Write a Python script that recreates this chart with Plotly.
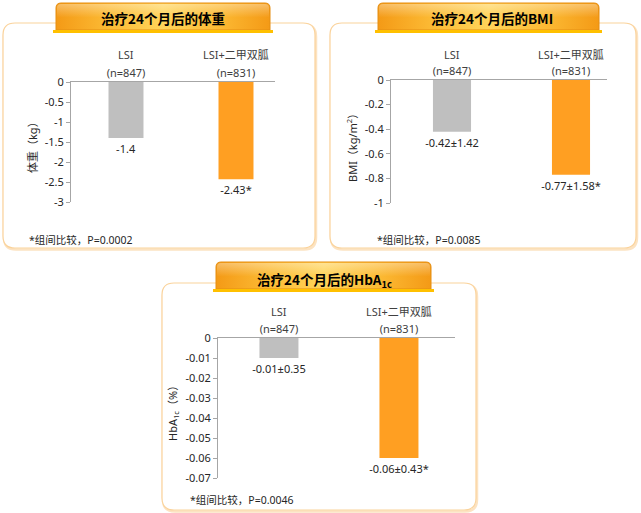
import base64
import plotly.graph_objects as go

W, H = 641, 513

group_names = ["LSI", "LSI+二甲双胍"]
group_n = ["(n=847)", "(n=831)"]
colors = ["#BFBFBF", "#FF9F22"]

weight = [-1.4, -2.43]
weight_txt = ["-1.4", "-2.43*"]
weight_ticks = [0, -0.5, -1, -1.5, -2, -2.5, -3]
weight_ticktext = ["0", "-0.5", "-1", "-1.5", "-2", "-2.5", "-3"]

bmi = [-0.42, -0.77]
bmi_txt = ["-0.42±1.42", "-0.77±1.58*"]
bmi_ticks = [0, -0.2, -0.4, -0.6, -0.8, -1]
bmi_ticktext = ["0", "-0.2", "-0.4", "-0.6", "-0.8", "-1"]

hba = [-0.01, -0.06]
hba_txt = ["-0.01±0.35", "-0.06±0.43*"]
hba_ticks = [0, -0.01, -0.02, -0.03, -0.04, -0.05, -0.06, -0.07]
hba_ticktext = ["0", "-0.01", "-0.02", "-0.03", "-0.04", "-0.05", "-0.06", "-0.07"]

titles = ["治疗24个月后的体重", "治疗24个月后的BMI", "治疗24个月后的HbA<sub>1c</sub>"]
ytitles = ["体重（kg）", "BMI（kg/m<sup>2</sup>）", "HbA<sub>1c</sub>（%）"]
notes = ["*组间比较，P=0.0002", "*组间比较，P=0.0085", "*组间比较，P=0.0046"]

FONT = "Noto Sans, Noto Sans CJK SC"
TFONT = "Noto Sans CJK SC"


def px(x):
    return x / W


def py(y):
    return 1 - y / H


def rrect(x0, y0, x1, y1, r):
    return (f"M{px(x0 + r)},{py(y0)} L{px(x1 - r)},{py(y0)} "
            f"Q{px(x1)},{py(y0)} {px(x1)},{py(y0 + r)} L{px(x1)},{py(y1 - r)} "
            f"Q{px(x1)},{py(y1)} {px(x1 - r)},{py(y1)} L{px(x0 + r)},{py(y1)} "
            f"Q{px(x0)},{py(y1)} {px(x0)},{py(y1 - r)} L{px(x0)},{py(y0 + r)} "
            f"Q{px(x0)},{py(y0)} {px(x0 + r)},{py(y0)} Z")


def tab_svg(w, h):
    svg = f'''<svg xmlns="http://www.w3.org/2000/svg" width="{w}" height="{h}" viewBox="0 0 {w} {h}" preserveAspectRatio="none">
<defs>
<linearGradient id="g" x1="0" y1="0" x2="1" y2="0">
<stop offset="0" stop-color="#F49A16"/><stop offset="0.25" stop-color="#FCBB35"/>
<stop offset="0.5" stop-color="#FFD45A"/><stop offset="0.75" stop-color="#FCBB35"/>
<stop offset="1" stop-color="#F49A16"/></linearGradient>
<linearGradient id="v" x1="0" y1="0" x2="0" y2="1">
<stop offset="0" stop-color="#FFFFFF" stop-opacity="0.35"/><stop offset="1" stop-color="#FFFFFF" stop-opacity="0"/></linearGradient>
</defs>
<path d="M3,{h - 3} L3,6 Q3,1 8,1 L{w - 8},1 Q{w - 3},1 {w - 3},6 L{w - 3},{h - 3} Z" fill="url(#g)" stroke="#E58E12" stroke-width="1"/>
<path d="M4,{h * 0.5} L4,6 Q4,2 8,2 L{w - 8},2 Q{w - 4},2 {w - 4},6 L{w - 4},{h * 0.5} Z" fill="url(#v)"/>
<rect x="0" y="{h - 3}" width="{w}" height="3" fill="#FFC000"/>
</svg>'''
    return "data:image/svg+xml;base64," + base64.b64encode(svg.encode()).decode()


# pixel layout of each panel
panels = [
    dict(box=(3, 23, 315, 248), tab=(53, 2, 273, 33), title=(163, 18), gy=55,
         xd=(71, 275), yd=(82, 202), xr=(-0.5, 1.3545), bw=0.318,
         ytitle=(32, 145), note=(27, 240),
         vals=weight, txt=weight_txt, tv=weight_ticks, tt=weight_ticktext, yr=(-3, 0)),
    dict(box=(330, 23, 636, 248), tab=(375, 2, 602, 33), title=(492, 18), gy=54,
         xd=(391, 607), yd=(80, 203), xr=(-0.5126, 1.3025), bw=0.32,
         ytitle=(352, 145), note=(375, 240),
         vals=bmi, txt=bmi_txt, tv=bmi_ticks, tt=bmi_ticktext, yr=(-1, 0)),
    dict(box=(162, 283, 476, 510), tab=(213, 261, 434, 292), title=(325, 280), gy=311,
         xd=(218, 455), yd=(338, 478), xr=(-0.508, 1.467), bw=0.325,
         ytitle=(173, 411), note=(188, 500),
         vals=hba, txt=hba_txt, tv=hba_ticks, tt=hba_ticktext, yr=(-0.07, 0)),
]

fig = go.Figure()
shapes, images, annotations = [], [], []

for i, p in enumerate(panels):
    n = "" if i == 0 else str(i + 1)
    fig.add_trace(go.Bar(
        x=[0, 1], y=p["vals"], width=p["bw"], marker=dict(color=colors, line=dict(width=0)),
        text=p["txt"], textposition="outside", cliponaxis=False, constraintext="none",
        textfont=dict(size=11, color="#262626", family=FONT),
        xaxis="x" + n, yaxis="y" + n, showlegend=False, hoverinfo="skip"))

    fig.layout["xaxis" + n] = dict(
        domain=[px(p["xd"][0]), px(p["xd"][1])], range=list(p["xr"]), anchor="y" + n,
        side="top", showline=True, linecolor="#A6A6A6", linewidth=1, showgrid=False,
        zeroline=False, tickvals=[0, 1], ticktext=group_n, ticks="", fixedrange=True,
        automargin=False, tickfont=dict(size=11, color="#404040", family=FONT))
    fig.layout["yaxis" + n] = dict(
        domain=[py(p["yd"][1]), py(p["yd"][0])], range=list(p["yr"]), anchor="x" + n,
        showline=True, linecolor="#A6A6A6", linewidth=1, showgrid=False, zeroline=False,
        tickvals=p["tv"], ticktext=p["tt"], ticks="outside", ticklen=4, tickcolor="#A6A6A6",
        automargin=False, tickfont=dict(size=11, color="#262626", family=FONT), fixedrange=True)

    for k in range(2):
        annotations.append(dict(text=group_names[k], x=k, y=py(p["gy"]), xref="x" + n, yref="paper",
                                showarrow=False, xanchor="center", yanchor="middle",
                                font=dict(size=11, color="#404040", family=FONT)))

    bx0, by0, bx1, by1 = p["box"]
    shapes.append(dict(type="path", xref="paper", yref="paper", layer="below",
                       path=rrect(bx0 + 1, by0 + 1.5, bx1 + 1, by1 + 1.5, 12),
                       line=dict(color="#FCE3C2", width=2.5), fillcolor="white"))
    shapes.append(dict(type="path", xref="paper", yref="paper", layer="below",
                       path=rrect(bx0, by0, bx1, by1, 12),
                       line=dict(color="#FAD39C", width=1.2), fillcolor="white"))

    tx0, ty0, tx1, ty1 = p["tab"]
    images.append(dict(source=tab_svg(tx1 - tx0, ty1 - ty0), xref="paper", yref="paper",
                       x=px(tx0), y=py(ty0), sizex=px(tx1) - px(tx0), sizey=py(ty0) - py(ty1),
                       sizing="stretch", xanchor="left", yanchor="top", layer="above"))

    annotations.append(dict(text="<b>" + titles[i] + "</b>", x=px(p["title"][0]), y=py(p["title"][1]),
                            xref="paper", yref="paper", showarrow=False, xanchor="center",
                            yanchor="middle", font=dict(size=13.5, color="#000000", family=TFONT)))
    annotations.append(dict(text=ytitles[i], x=px(p["ytitle"][0]), y=py(p["ytitle"][1]),
                            xref="paper", yref="paper", showarrow=False, textangle=-90,
                            xanchor="center", yanchor="middle",
                            font=dict(size=11, color="#262626", family=FONT)))
    annotations.append(dict(text=notes[i], x=px(p["note"][0]), y=py(p["note"][1]),
                            xref="paper", yref="paper", showarrow=False, xanchor="left",
                            yanchor="middle", font=dict(size=10.5, color="#262626", family=FONT)))

fig.update_layout(
    width=W, height=H, margin=dict(l=0, r=0, t=0, b=0, autoexpand=False),
    paper_bgcolor="white", plot_bgcolor="rgba(0,0,0,0)",
    shapes=shapes, images=images, annotations=annotations,
    font=dict(family=FONT), showlegend=False,
)

fig.write_html("out.html", config={"displayModeBar": False},
               post_script="document.body.style.margin='0';document.body.style.overflow='hidden';")
